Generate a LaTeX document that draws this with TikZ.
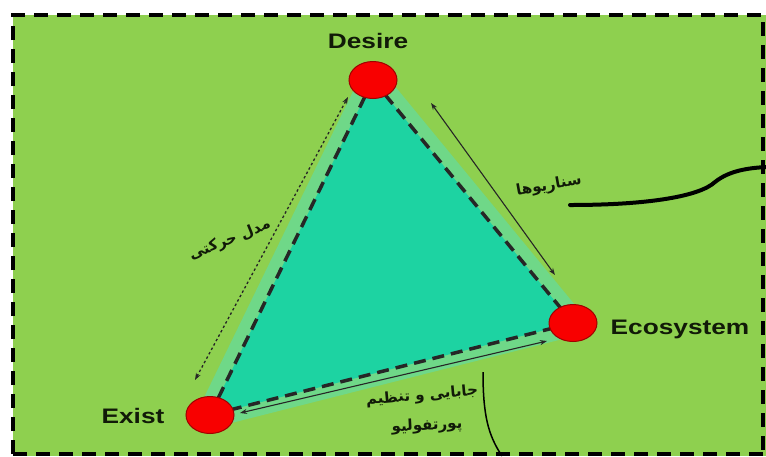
\documentclass[tikz,border=0pt]{standalone}
\usepackage{fontspec}
\setmainfont{Liberation Sans}
\newfontfamily\arabicfont[Script=Arabic]{DejaVu Sans}
\TeXXeTstate=1
\usetikzlibrary{arrows.meta,shapes.geometric}
\definecolor{bggreen}{HTML}{8ED04F}
\definecolor{tealfill}{HTML}{1DD3A2}
\definecolor{halo}{HTML}{6FD888}
\definecolor{redfill}{HTML}{F80000}
\definecolor{reddark}{HTML}{A00000}
\definecolor{txt}{HTML}{111A08}
\tikzset{
  vertexdot/.style={ellipse, minimum width=48pt, minimum height=37pt, inner sep=0pt, fill=redfill, draw=reddark, line width=1pt},
  vlabel/.style={font=\bfseries\fontsize{21}{21}\selectfont, xscale=1.25, text=txt},
  farsi/.style={font=\arabicfont\bfseries\fontsize{15}{17}\selectfont, text=txt, inner sep=1pt},
  edgedash/.style={line width=3.5pt, dash pattern=on 12pt off 7pt, black!85},
  twoway/.style={{Stealth[length=7pt,width=5pt]}-{Stealth[length=7pt,width=5pt]}, line width=1.1pt, black!85}
}
\begin{document}
\begin{tikzpicture}[x=1pt,y=-1pt]
\useasboundingbox (0,0) rectangle (766,456);
\fill[white] (0,0) rectangle (766,456);
\fill[bggreen] (13,15) rectangle (766,456);
\draw[line width=4pt, dash pattern=on 14pt off 9pt] (13,454) -- (13,15) -- (763,15) -- (763,454);
\draw[line width=4pt, dash pattern=on 14pt off 9pt] (13,454) -- (763,454);

% triangle
\coordinate (A) at (373,80);
\coordinate (B) at (573,323);
\coordinate (C) at (210,415);
\filldraw[halo, line width=26pt, line join=round] (A) -- (B) -- (C) -- cycle;
\fill[tealfill] (A) -- (B) -- (C) -- cycle;
\draw[edgedash] (A) -- (B);
\draw[edgedash] (B) -- (C);
\draw[edgedash] (C) -- (A);

% vertices
\node[vertexdot] (desire) at (A) {};
\node[vertexdot] (eco) at (B) {};
\node[vertexdot] (exist) at (C) {};

\node[vlabel] (ldesire) at (368,41) {Desire};
\node[vlabel] (leco) at (680,329) {Ecosystem};
\node[vlabel] (lexist) at (133,416) {Exist};

% arrows
\coordinate (l1) at (195,380);
\coordinate (l2) at (348,97);
\draw[twoway, line width=1.3pt, dash pattern=on 2.5pt off 2.5pt] (l1) -- (l2);
\coordinate (r1) at (431,103);
\coordinate (r2) at (555,275);
\draw[twoway] (r1) -- (r2);
\coordinate (b1) at (240,413);
\coordinate (b2) at (547,341);
\draw[twoway] (b1) -- (b2);

% farsi labels
\node[farsi, rotate=22] (tmodel) at (230,240) {\beginR مدل حرکتی\endR};
\node[farsi, rotate=10] (tscen) at (549,186) {\beginR سناریوها\endR};
\node[farsi, rotate=5] (tport1) at (422,396) {\beginR جابایی و تنظیم\endR};
\node[farsi, rotate=3] (tport2) at (427,426) {\beginR پورتفولیو\endR};

% curves
\coordinate (k1) at (570,205);
\coordinate (k2) at (715,182);
\coordinate (k3) at (766,167);
\draw[line width=4pt, line cap=round] (k1) .. controls (650,205) and (700,196) .. (k2) .. controls (730,170) and (750,168) .. (k3);
\coordinate (m1) at (483,372);
\coordinate (m2) at (502,456);
\draw[line width=1.5pt] (m1) .. controls (483,415) and (488,435) .. (m2);
\end{tikzpicture}
\end{document}
